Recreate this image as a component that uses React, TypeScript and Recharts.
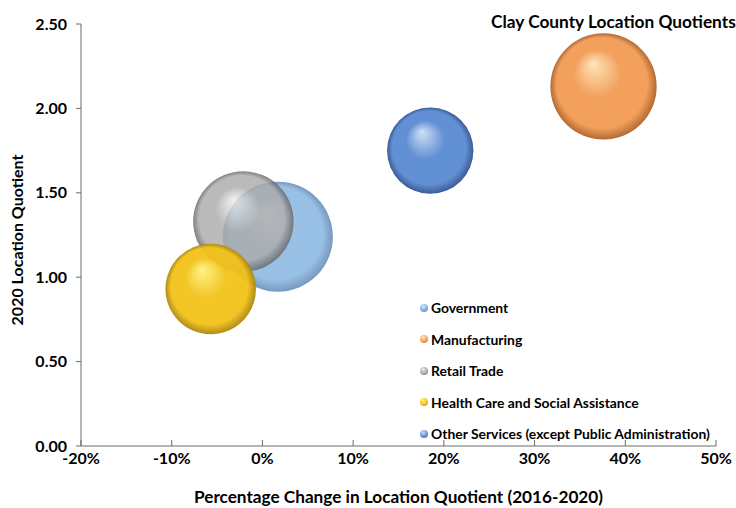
import React from "react";
import {
  ScatterChart,
  Scatter,
  XAxis,
  YAxis,
  ZAxis,
  Legend,
} from "recharts";

// bubble series
const seriesNames = [
  "Government",
  "Manufacturing",
  "Retail Trade",
  "Health Care and Social Assistance",
  "Other Services (except Public Administration)",
];
const pctChange = [0.017, 0.376, -0.021, -0.057, 0.185];
const locationQuotient = [1.24, 2.13, 1.33, 0.93, 1.75];
const bubbleSize = [3000, 2800, 2500, 2030, 1850];

const xTicks = [-0.2, -0.1, 0, 0.1, 0.2, 0.3, 0.4, 0.5];
const yTicks = [0, 0.5, 1, 1.5, 2, 2.5];

const palette = [
  { hi: "#d6e8f8", base: "#7fb0de", edge: "#557fae", opacity: 0.8 },
  { hi: "#fee6bc", base: "#f3a05c", edge: "#b46a32", opacity: 1 },
  { hi: "#ececec", base: "#ababab", edge: "#666666", opacity: 0.82 },
  { hi: "#fff383", base: "#f2c21a", edge: "#ad850c", opacity: 0.95 },
  { hi: "#cfe0f7", base: "#6290d4", edge: "#3b5c96", opacity: 1 },
];

const FONT = "Lato, 'Open Sans', sans-serif";

const Bubble = (props: any) => {
  const { cx, cy, width, idx } = props;
  const r = width / 2;
  return (
    <circle
      cx={cx}
      cy={cy}
      r={r}
      fill={`url(#bub${idx})`}
      fillOpacity={palette[idx].opacity}
    />
  );
};

const renderLegend = () => (
  <div style={{ fontFamily: FONT, fontWeight: 700, fontSize: 13.9, color: "#000" }}>
    {seriesNames.map((name, i) => (
      <div
        key={name}
        style={{ display: "flex", alignItems: "center", height: 31.5, whiteSpace: "nowrap" }}
      >
        <span
          style={{
            width: 8,
            height: 8,
            borderRadius: "50%",
            marginRight: 3,
            background: `radial-gradient(circle at 40% 30%, ${palette[i].hi}, ${palette[i].base} 55%, ${palette[i].edge})`,
          }}
        />
        {name}
      </div>
    ))}
  </div>
);

export default function App() {
  const series = seriesNames.map((name, i) => ({
    name,
    data: [{ x: pctChange[i], y: locationQuotient[i], z: bubbleSize[i] }],
  }));

  const axisLine = { stroke: "#6b6b6b" };
  const tickStyle = { fill: "#000", fontFamily: FONT, fontWeight: 700, fontSize: 16 };

  return (
    <div
      style={{
        position: "absolute",
        left: 0,
        top: 0,
        width: 736,
        height: 508,
        overflow: "hidden",
        background: "#fff",
      }}
    >
      <ScatterChart
        width={736}
        height={508}
        margin={{ top: 24, right: 20, bottom: 0, left: 0 }}
      >
        <defs>
          {palette.map((p, i) => (
            <radialGradient key={i} id={`bub${i}`} cx="50%" cy="50%" r="50%" fx="40%" fy="28%">
              <stop offset="0%" stopColor={p.hi} />
              <stop offset="45%" stopColor={p.base} />
              <stop offset="85%" stopColor={p.base} />
              <stop offset="100%" stopColor={p.edge} />
            </radialGradient>
          ))}
        </defs>
        <XAxis
          type="number"
          dataKey="x"
          domain={[-0.2, 0.5]}
          ticks={xTicks}
          tickFormatter={(v: number) => `${Math.round(v * 100)}%`}
          axisLine={axisLine}
          tickLine={axisLine}
          tickSize={-6}
          tickMargin={13}
          tick={tickStyle}
          height={62}
          allowDataOverflow
          label={{
            value: "Percentage Change in Location Quotient (2016-2020)",
            position: "insideBottom",
            offset: 5,
            style: { fill: "#000", fontFamily: FONT, fontWeight: 700, fontSize: 17.2 },
          }}
        />
        <YAxis
          type="number"
          dataKey="y"
          domain={[0, 2.5]}
          ticks={yTicks}
          tickFormatter={(v: number) => v.toFixed(2)}
          axisLine={axisLine}
          tickLine={axisLine}
          tickSize={5}
          tickMargin={9}
          tick={tickStyle}
          width={81}
          allowDataOverflow
          label={{
            value: "2020 Location Quotient",
            angle: -90,
            position: "insideLeft",
            offset: 17,
            dy: 5,
            style: { textAnchor: "middle", fill: "#000", fontFamily: FONT, fontWeight: 700, fontSize: 16 },
          }}
        />
        <ZAxis type="number" dataKey="z" domain={[0, 3000]} range={[0, Math.PI * 55 * 55]} />
        <Legend
          layout="vertical"
          align="center"
          verticalAlign="middle"
          content={renderLegend}
          wrapperStyle={{ left: 420, top: 292, width: "auto" }}
        />
        {series.map((s, i) => (
          <Scatter
            key={s.name}
            name={s.name}
            data={s.data}
            isAnimationActive={false}
            shape={(p: any) => <Bubble {...p} idx={i} />}
          />
        ))}
      </ScatterChart>
      <div
        style={{
          position: "absolute",
          left: 491,
          top: 11,
          whiteSpace: "nowrap",
          fontFamily: FONT,
          fontWeight: 700,
          fontSize: 17.3,
          color: "#000",
        }}
      >
        Clay County Location Quotients
      </div>
    </div>
  );
}
